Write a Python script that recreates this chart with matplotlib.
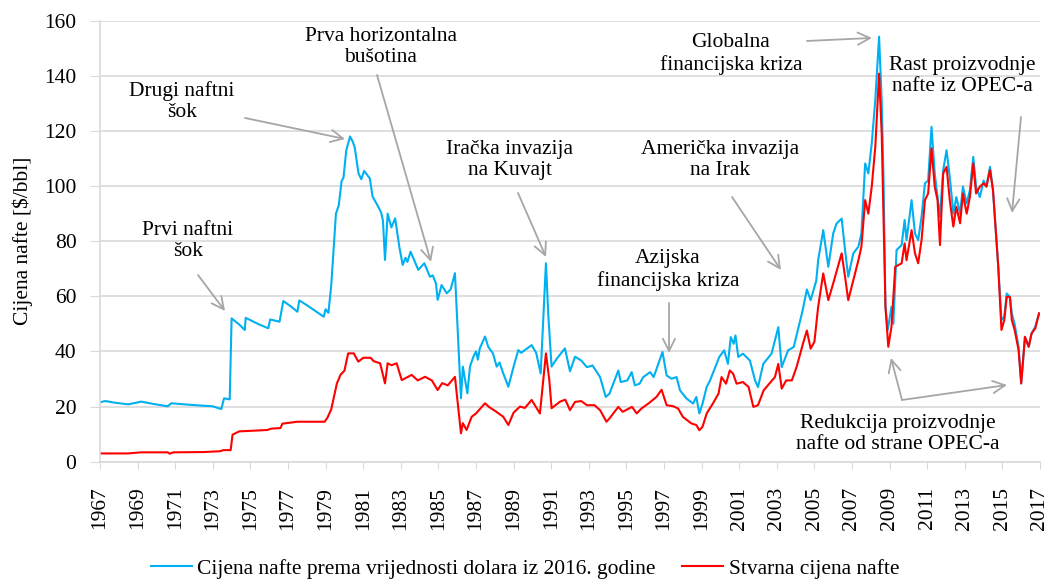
import matplotlib.pyplot as plt
from matplotlib.lines import Line2D

plt.rcParams['font.family'] = ['Liberation Serif', 'DejaVu Serif']

# Cijena nafte prema vrijednosti dolara iz 2016. godine
real_years = [
    1967.0, 1967.3, 1967.8, 1968.5, 1969.2, 1969.8, 1970.6, 1970.8, 1971.5, 1972.3,
    1973.0, 1973.45, 1973.6, 1973.9, 1974.0, 1974.4, 1974.7, 1974.75, 1975.4, 1975.95,
    1976.05, 1976.55, 1976.75, 1977.2, 1977.5, 1977.6, 1978.0, 1978.9, 1979.0, 1979.15,
    1979.3, 1979.55, 1979.7, 1979.85, 1979.95, 1980.1, 1980.3, 1980.45, 1980.55, 1980.75,
    1980.9, 1981.05, 1981.35, 1981.5, 1981.8, 1981.95, 1982.05, 1982.16, 1982.3, 1982.5,
    1982.7, 1982.92, 1983.1, 1983.25, 1983.35, 1983.52, 1983.93, 1984.25, 1984.55, 1984.7,
    1984.87, 1984.96, 1985.17, 1985.44, 1985.65, 1985.88, 1986.2, 1986.3, 1986.54, 1986.68,
    1986.86, 1987.0, 1987.1, 1987.2, 1987.48, 1987.65, 1987.9, 1988.1, 1988.25, 1988.45,
    1988.72, 1989.0, 1989.25, 1989.4, 1989.6, 1989.96, 1990.2, 1990.44, 1990.72, 1990.85,
    1991.02, 1991.3, 1991.73, 1992.0, 1992.27, 1992.6, 1992.9, 1993.2, 1993.6, 1993.9,
    1994.1, 1994.57, 1994.7, 1995.05, 1995.28, 1995.45, 1995.7, 1995.9, 1996.26, 1996.45,
    1996.7, 1996.92, 1997.14, 1997.4, 1997.67, 1997.85, 1998.2, 1998.55, 1998.72, 1998.88,
    1999.05, 1999.27, 1999.45, 1999.66, 1999.94, 2000.2, 2000.4, 2000.55, 2000.7, 2000.8,
    2000.95, 2001.2, 2001.57, 2001.84, 2002.0, 2002.28, 2002.72, 2003.08, 2003.26, 2003.6,
    2003.9, 2004.37, 2004.6, 2004.8, 2005.1, 2005.2, 2005.47, 2005.74, 2006.0, 2006.18,
    2006.45, 2006.63, 2006.8, 2007.07, 2007.34, 2007.5, 2007.7, 2007.87, 2008.05, 2008.24,
    2008.44, 2008.58, 2008.68, 2008.78, 2008.9, 2009.1, 2009.2, 2009.37, 2009.64, 2009.8,
    2009.9, 2010.17, 2010.35, 2010.52, 2010.7, 2010.88, 2011.05, 2011.23, 2011.4, 2011.55,
    2011.68, 2011.85, 2012.03, 2012.2, 2012.39, 2012.55, 2012.75, 2012.9, 2013.1, 2013.27,
    2013.45, 2013.6, 2013.8, 2014.0, 2014.15, 2014.34, 2014.5, 2014.78, 2014.95, 2015.1,
    2015.23, 2015.4, 2015.5, 2015.65, 2015.86, 2016.0, 2016.2, 2016.4, 2016.55, 2016.75,
    2016.95,
]
real_prices = [
    21.6, 22.0, 21.4, 20.8, 21.8, 21.0, 20.1, 21.2, 20.8, 20.4,
    20.1, 19.1, 23.0, 22.6, 52.0, 49.8, 47.8, 52.2, 50.0, 48.4,
    51.6, 50.8, 58.3, 56.1, 54.4, 58.5, 56.8, 52.6, 55.3, 54.0,
    64.0, 90.0, 93.0, 101.8, 103.0, 113.0, 118.0, 116.0, 114.0, 104.6,
    102.5, 105.5, 102.8, 96.2, 92.5, 90.5, 87.5, 73.2, 90.0, 85.0,
    88.3, 78.0, 71.4, 74.0, 72.5, 76.2, 69.6, 72.0, 67.1, 67.6,
    64.7, 58.7, 64.1, 61.1, 62.5, 68.4, 23.0, 34.5, 24.8, 34.5,
    38.1, 40.0, 37.0, 41.1, 45.4, 41.7, 39.3, 34.5, 36.0, 32.0,
    27.2, 34.5, 40.5, 39.5, 40.5, 42.3, 39.5, 32.0, 72.0, 52.6,
    34.5, 37.4, 41.1, 32.8, 38.1, 36.7, 34.3, 34.9, 30.7, 23.5,
    24.7, 33.1, 28.9, 29.5, 32.5, 27.7, 28.3, 30.7, 32.5, 30.7,
    35.5, 39.8, 31.3, 30.1, 30.7, 25.9, 22.9, 21.1, 23.5, 17.5,
    21.1, 27.1, 29.5, 33.1, 38.0, 40.4, 35.5, 45.2, 42.8, 45.8,
    38.0, 39.2, 36.7, 29.5, 27.1, 35.5, 39.2, 48.8, 34.3, 40.4,
    41.6, 54.8, 62.5, 58.6, 65.7, 73.1, 84.0, 70.7, 82.8, 86.4,
    88.2, 76.8, 67.1, 75.6, 78.0, 82.8, 108.2, 104.6, 115.5, 131.2,
    154.2, 131.0, 101.0, 56.2, 47.8, 56.2, 50.0, 76.8, 78.6, 87.7,
    80.4, 94.9, 82.8, 80.4, 88.9, 101.0, 102.0, 121.5, 104.6, 96.0,
    89.0, 105.8, 113.0, 103.4, 90.0, 96.0, 90.0, 99.8, 93.7, 98.5,
    110.6, 99.8, 96.0, 102.0, 99.8, 107.0, 98.5, 70.7, 51.4, 52.6,
    61.0, 59.8, 53.8, 50.0, 41.7, 28.4, 45.3, 41.7, 46.5, 49.0,
    53.8,
]

# Stvarna cijena nafte (nominal)
nominal_years = [
    1967.0, 1968.5, 1969.2, 1970.6, 1970.7, 1970.9, 1972.5, 1973.4, 1973.55, 1973.95,
    1974.05, 1974.4, 1975.9, 1976.1, 1976.6, 1976.7, 1977.5, 1978.95, 1979.1, 1979.3,
    1979.6, 1979.8, 1980.0, 1980.2, 1980.5, 1980.74, 1981.0, 1981.4, 1981.55, 1981.9,
    1982.16, 1982.3, 1982.5, 1982.78, 1983.05, 1983.3, 1983.58, 1983.9, 1984.29, 1984.65,
    1984.96, 1985.2, 1985.5, 1985.88, 1986.2, 1986.3, 1986.5, 1986.77, 1987.0, 1987.48,
    1987.7, 1988.0, 1988.45, 1988.72, 1989.0, 1989.34, 1989.6, 1989.96, 1990.4, 1990.72,
    1990.9, 1991.02, 1991.47, 1991.75, 1992.0, 1992.27, 1992.6, 1992.9, 1993.3, 1993.6,
    1993.94, 1994.1, 1994.57, 1994.8, 1995.3, 1995.55, 1995.8, 1996.17, 1996.6, 1996.87,
    1997.14, 1997.5, 1997.75, 1998.0, 1998.45, 1998.72, 1998.88, 1999.05, 1999.27, 1999.6,
    1999.9, 2000.06, 2000.3, 2000.5, 2000.68, 2000.86, 2001.2, 2001.5, 2001.75, 2002.0,
    2002.3, 2002.6, 2002.9, 2003.08, 2003.26, 2003.5, 2003.8, 2004.05, 2004.4, 2004.6,
    2004.8, 2005.0, 2005.2, 2005.47, 2005.74, 2006.0, 2006.45, 2006.63, 2006.8, 2007.07,
    2007.34, 2007.5, 2007.7, 2007.87, 2008.05, 2008.24, 2008.44, 2008.58, 2008.78, 2008.93,
    2009.1, 2009.3, 2009.64, 2009.8, 2009.9, 2010.17, 2010.35, 2010.52, 2010.7, 2010.88,
    2011.05, 2011.23, 2011.4, 2011.55, 2011.68, 2011.85, 2012.03, 2012.2, 2012.39, 2012.55,
    2012.75, 2012.9, 2013.1, 2013.27, 2013.45, 2013.6, 2013.8, 2014.0, 2014.15, 2014.34,
    2014.5, 2014.78, 2014.95, 2015.1, 2015.23, 2015.4, 2015.5, 2015.65, 2015.86, 2016.0,
    2016.2, 2016.4, 2016.55, 2016.75, 2016.95,
]
nominal_prices = [
    3.0, 3.0, 3.4, 3.4, 2.9, 3.4, 3.5, 3.8, 4.2, 4.2,
    9.8, 11.0, 11.5, 12.0, 12.2, 13.8, 14.5, 14.5, 16.0, 19.0,
    28.4, 31.6, 33.0, 39.3, 39.3, 36.3, 37.7, 37.7, 36.5, 35.7,
    28.4, 35.7, 35.0, 35.7, 29.6, 30.5, 31.5, 29.5, 30.8, 29.5,
    26.0, 28.5, 27.7, 30.8, 10.3, 14.0, 11.5, 16.3, 17.5, 21.2,
    19.8, 18.5, 16.3, 13.3, 17.8, 20.0, 19.5, 22.4, 17.5, 39.3,
    29.6, 19.4, 21.8, 22.5, 18.7, 21.7, 22.0, 20.5, 20.5, 18.7,
    14.5, 15.7, 19.9, 18.1, 19.9, 17.5, 19.3, 21.1, 23.5, 26.1,
    20.5, 20.1, 19.3, 16.3, 13.9, 13.3, 11.4, 12.7, 17.5, 21.1,
    24.7, 30.7, 28.3, 33.1, 31.9, 28.3, 28.9, 27.1, 19.9, 20.5,
    25.9, 28.3, 30.7, 35.5, 26.5, 29.5, 29.5, 34.3, 43.0, 47.6,
    41.0, 43.5, 56.2, 68.3, 58.6, 64.7, 75.6, 67.1, 58.6, 65.9,
    73.1, 78.0, 94.9, 90.0, 99.8, 114.3, 140.8, 119.0, 56.2, 41.7,
    49.0, 70.7, 72.0, 79.2, 73.1, 84.0, 75.6, 72.0, 80.4, 94.9,
    97.3, 113.7, 99.8, 94.9, 78.6, 104.6, 107.0, 94.9, 85.3, 92.5,
    86.5, 97.3, 90.0, 96.0, 108.2, 97.3, 99.8, 101.0, 99.8, 105.8,
    98.5, 70.7, 47.8, 51.4, 59.8, 59.8, 51.4, 47.8, 40.5, 28.4,
    45.3, 41.7, 46.5, 48.4, 53.8,
]

year_ticks = list(range(1967, 2018, 2))
price_ticks = list(range(0, 161, 20))

# event labels: text, text centre (px), list of (arrow tail px, arrow head px)
events = [
    ("Prvi naftni\nšok", (188, 241), [((198, 275), (225, 311))]),
    ("Drugi naftni\nšok", (182, 102), [((245, 118), (345, 139))]),
    ("Prva horizontalna\nbušotina", (381, 47), [((377, 75), (431, 262))]),
    ("Iračka invazija\nna Kuvajt", (510, 160), [((518, 193), (546, 257))]),
    ("Azijska\nfinancijska kriza", (668, 270), [((669, 303), (669, 353))]),
    ("Američka invazija\nna Irak", (720, 160), [((732, 197), (781, 270))]),
    ("Globalna\nfinancijska kriza", (731, 54), [((807, 41), (872, 38))]),
    ("Rast proizvodnje\nnafte iz OPEC-a", (962, 76), [((1021, 117), (1012, 213))]),
    ("Redukcija proizvodnje\nnafte od strane OPEC-a", (898, 434),
     [((902, 400), (891, 358)), ((902, 400), (1007, 385))]),
]


def px(x, y):
    # picture pixel -> data coords
    return 1967 + (x - 100) / 18.8, (461.7 - y) / 2.756


fig = plt.figure(figsize=(10.51, 5.80), dpi=100)
ax = fig.add_axes([100 / 1051, 118.3 / 580, 940 / 1051, 441 / 580])

ax.plot(real_years, real_prices, color='#00b0f0', lw=1.5)
ax.plot(nominal_years, nominal_prices, color='#ff0000', lw=1.5)

ax.set_xlim(1967, 2017)
ax.set_ylim(0, 160)
ax.set_xticks(year_ticks)
ax.set_xticklabels([str(y) for y in year_ticks], rotation=90)
ax.set_yticks(price_ticks)
ax.tick_params(axis='x', length=5, color='#d9d9d9', pad=13, labelsize=15.5)
ax.tick_params(axis='y', length=7, color='#d9d9d9', pad=10, labelsize=15.5)
ax.yaxis.grid(True, color='#d9d9d9', lw=1.2)
ax.set_axisbelow(True)
for side in ['top', 'right']:
    ax.spines[side].set_visible(False)
for side in ['left', 'bottom']:
    ax.spines[side].set_color('#d9d9d9')
    ax.spines[side].set_linewidth(1.2)
ax.set_ylabel('Cijena nafte [$/bbl]', fontsize=15.5, labelpad=8)

for text, pos, arrows in events:
    ax.text(*px(*pos), text, ha='center', va='center', fontsize=15.5,
            linespacing=1.15)
    for tail, head in arrows:
        ax.annotate('', xy=px(*head), xytext=px(*tail),
                    arrowprops=dict(arrowstyle='->', color='#a6a6a6', lw=1.3,
                                    mutation_scale=22, shrinkA=0, shrinkB=0))

handles = [Line2D([], [], color='#00b0f0', lw=1.5),
           Line2D([], [], color='#ff0000', lw=1.5)]
fig.legend(handles, ['Cijena nafte prema vrijednosti dolara iz 2016. godine',
                     'Stvarna cijena nafte'],
           loc='center', bbox_to_anchor=(0.4995, 0.019), ncol=2, frameon=False,
           fontsize=15.5, handlelength=1.9, handletextpad=0.25, columnspacing=1.25)

fig.savefig('out.png', dpi=100)
